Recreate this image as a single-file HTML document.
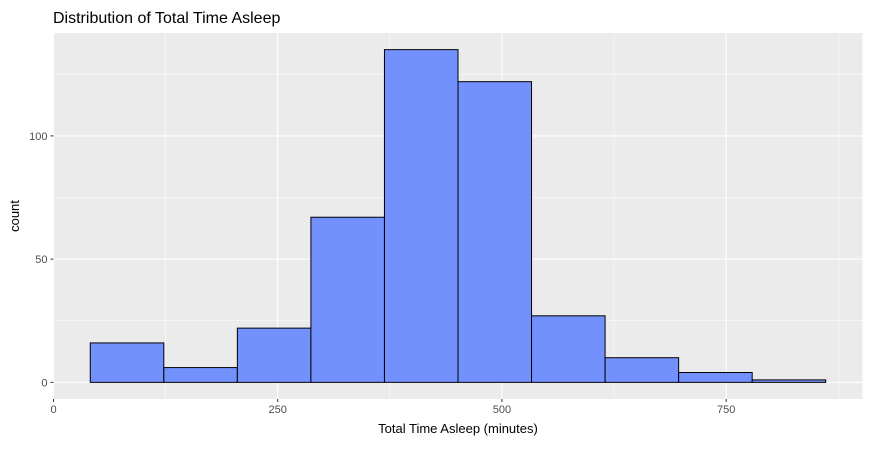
<!DOCTYPE html>
<html><head><meta charset="utf-8"><style>
body{margin:0;background:#fff;font-family:"Liberation Sans",sans-serif}
</style></head><body>
<svg width="870" height="444" xmlns="http://www.w3.org/2000/svg">
<text x="53" y="23" font-size="16" fill="#000">Distribution of Total Time Asleep</text>
<rect x="53.5" y="33" width="809" height="366" fill="#ebebeb"/>
<g id="grid"></g>
<g id="bars"></g>
<g id="axes"></g>
<text x="458" y="433" font-size="13" text-anchor="middle" fill="#000">Total Time Asleep (minutes)</text>
<text transform="translate(19,216) rotate(-90)" font-size="13" text-anchor="middle" fill="#000">count</text>
</svg>
<script>
const binStarts=[41,123,205,287,369,451,533,615,697,779];
const binWidth=82;
const counts=[16,6,22,67,135,122,27,10,4,1];
const xTicks=[0,250,500,750];
const yTicks=[0,50,100];
const NS="http://www.w3.org/2000/svg";
const xMin=0,xMax=902,yMin=-6.75,yMax=141.75;
const L=53.5,R=862.5,T=33,B=399;
const sx=v=>L+(v-xMin)/(xMax-xMin)*(R-L);
const sy=v=>B-(v-yMin)/(yMax-yMin)*(B-T);
function mk(tag,attrs,parent){const e=document.createElementNS(NS,tag);for(const k in attrs)e.setAttribute(k,attrs[k]);parent.appendChild(e);return e;}
const grid=document.getElementById('grid'),bars=document.getElementById('bars'),axes=document.getElementById('axes');
for(let i=0;i<xTicks.length;i++){
  const v=xTicks[i],m=v+125;
  let g=mk('line',{x1:sx(v),x2:sx(v),y1:T,y2:B,stroke:'#fff','stroke-width':1.1},grid);
  
  if(m<xMax){let n=mk('line',{x1:sx(m),x2:sx(m),y1:T,y2:B,stroke:'#fff','stroke-width':0.5},grid);
  }
  let t=mk('line',{x1:sx(v),x2:sx(v),y1:B,y2:B+3,stroke:'#333','stroke-width':1},axes);
  
  let l=mk('text',{x:sx(v),y:B+14,'font-size':11,'text-anchor':'middle',fill:'#4d4d4d'},axes);
  l.textContent=v;
}
for(let i=0;i<yTicks.length;i++){
  const v=yTicks[i],m=v+25;
  let g=mk('line',{x1:L,x2:R,y1:sy(v),y2:sy(v),stroke:'#fff','stroke-width':1.1},grid);
  
  if(m<yMax){let n=mk('line',{x1:L,x2:R,y1:sy(m),y2:sy(m),stroke:'#fff','stroke-width':0.5},grid);
  }
  let t=mk('line',{x1:L-3,x2:L,y1:sy(v),y2:sy(v),stroke:'#333','stroke-width':1},axes);
  
  let l=mk('text',{x:L-6,y:sy(v)+4,'font-size':11,'text-anchor':'end',fill:'#4d4d4d'},axes);
  l.textContent=v;
}
for(let i=0;i<counts.length;i++){
  const x0=sx(binStarts[i]),x1=sx(binStarts[i]+binWidth);
  let r=mk('rect',{x:x0,y:sy(counts[i]),width:x1-x0,height:sy(0)-sy(counts[i]),fill:'#7391fd',stroke:'#000','stroke-width':1},bars);
  
  
}
</script>
</body></html>
